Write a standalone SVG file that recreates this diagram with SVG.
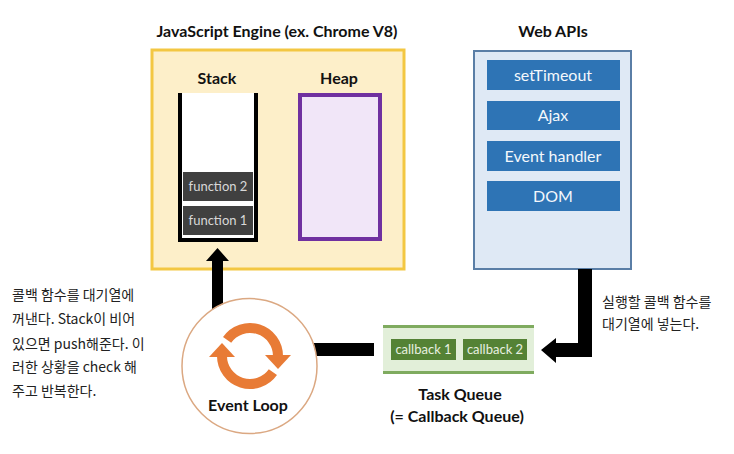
<svg xmlns="http://www.w3.org/2000/svg" width="734" height="454" viewBox="0 0 734 454">
<style>
.title{font-family:Lato,"Liberation Sans",sans-serif;font-weight:bold;font-size:16px;fill:#111;text-anchor:middle}
.api{font-family:Lato,"Liberation Sans",sans-serif;font-size:16px;fill:#f4f8fc;text-anchor:middle}
.fn{font-family:Lato,"Liberation Sans",sans-serif;font-size:13px;fill:#d8d8d8;text-anchor:middle}
.cb{font-family:Lato,"Liberation Sans",sans-serif;font-size:13px;fill:#e8f0e0;text-anchor:middle}
.ko{font-family:"Noto Sans CJK KR","Liberation Sans",sans-serif;font-size:14px;fill:#222}
.apibox{fill:#2e74b5}
.fnbox{fill:#404040}
.cbbox{fill:#548235}
.bar{fill:#000}
</style>
<rect width="734" height="454" fill="#fff"/>

<g id="js-engine">
  <text class="title" x="277" y="37">JavaScript Engine (ex. Chrome V8)</text>
  <rect x="152" y="50" width="252" height="219" fill="#fdefc9" stroke="#f3c742" stroke-width="3"/>
</g>

<g id="stack">
  <text class="title" x="217" y="84">Stack</text>
  <rect x="178" y="93" width="80" height="149" fill="#fff"/>
  <path d="M180 93 V240 H256 V93" fill="none" stroke="#000" stroke-width="4"/>
  <rect class="fnbox" x="183" y="172" width="70" height="29"/>
  <text class="fn" x="218" y="191">function 2</text>
  <rect class="fnbox" x="183" y="206" width="70" height="29"/>
  <text class="fn" x="218" y="225">function 1</text>
</g>

<g id="heap">
  <text class="title" x="339" y="84">Heap</text>
  <rect x="300" y="95" width="80" height="144" fill="#f1e6f8" stroke="#7030a0" stroke-width="4"/>
</g>

<g id="web-apis">
  <text class="title" x="553" y="37">Web APIs</text>
  <rect x="474" y="51" width="157" height="218" fill="#dfe9f5" stroke="#5a7ea6" stroke-width="2"/>
  <rect class="apibox" x="487" y="60" width="133" height="30"/>
  <text class="api" x="553" y="81">setTimeout</text>
  <rect class="apibox" x="487" y="101" width="133" height="29"/>
  <text class="api" x="553" y="121">Ajax</text>
  <rect class="apibox" x="487" y="141" width="133" height="30"/>
  <text class="api" x="553" y="162">Event handler</text>
  <rect class="apibox" x="487" y="181" width="133" height="30"/>
  <text class="api" x="553" y="202">DOM</text>
</g>

<g id="connectors">
  <path class="bar" d="M212 261 H206 L217.5 248 L229 261 H223 V312 H212 Z"/>
  <rect class="bar" x="300" y="343" width="74" height="13"/>
  <path class="bar" d="M578 269 H592 V357 H556 V363 L541 350 L556 338 V343 H578 Z"/>
</g>

<g id="event-loop">
  <circle cx="249.5" cy="366" r="67.5" fill="#fff" stroke="#dba882" stroke-width="1.5"/>
  <g fill="none" stroke="#e87b36" stroke-width="10">
    <path d="M227.1 339.9 A28 28 0 0 1 278 356"/>
    <path d="M272.9 372.1 A28 28 0 0 1 222 356"/>
  </g>
  <g fill="#e87b36">
    <path d="M265 355 H291 L278 369 Z"/>
    <path d="M209 357 H235 L222 343 Z"/>
  </g>
  <text class="title" x="248" y="411" font-size="15">Event Loop</text>
</g>

<g id="task-queue">
  <rect x="383" y="327" width="151" height="46" fill="#e2efd9"/>
  <rect x="383" y="325" width="151" height="3" fill="#7fab5f"/>
  <rect x="383" y="371" width="151" height="3" fill="#7fab5f"/>
  <rect class="cbbox" x="391" y="339" width="65" height="21"/>
  <text class="cb" x="423.5" y="354">callback 1</text>
  <rect class="cbbox" x="463" y="339" width="64" height="21"/>
  <text class="cb" x="495" y="354">callback 2</text>
  <text class="title" x="460" y="400" font-size="15">Task Queue</text>
  <text class="title" x="457" y="422" font-size="15">(= Callback Queue)</text>
</g>

<g id="note-left">
  <text class="ko" x="12" y="300">콜백 함수를 대기열에</text>
  <text class="ko" x="12" y="324">꺼낸다. Stack이 비어</text>
  <text class="ko" x="12" y="349">있으면 push해준다. 이</text>
  <text class="ko" x="12" y="372">러한 상황을 check 해</text>
  <text class="ko" x="12" y="396">주고 반복한다.</text>
</g>

<g id="note-right">
  <text class="ko" x="602" y="307">실행할 콜백 함수를</text>
  <text class="ko" x="602" y="329">대기열에 넣는다.</text>
</g>
</svg>
